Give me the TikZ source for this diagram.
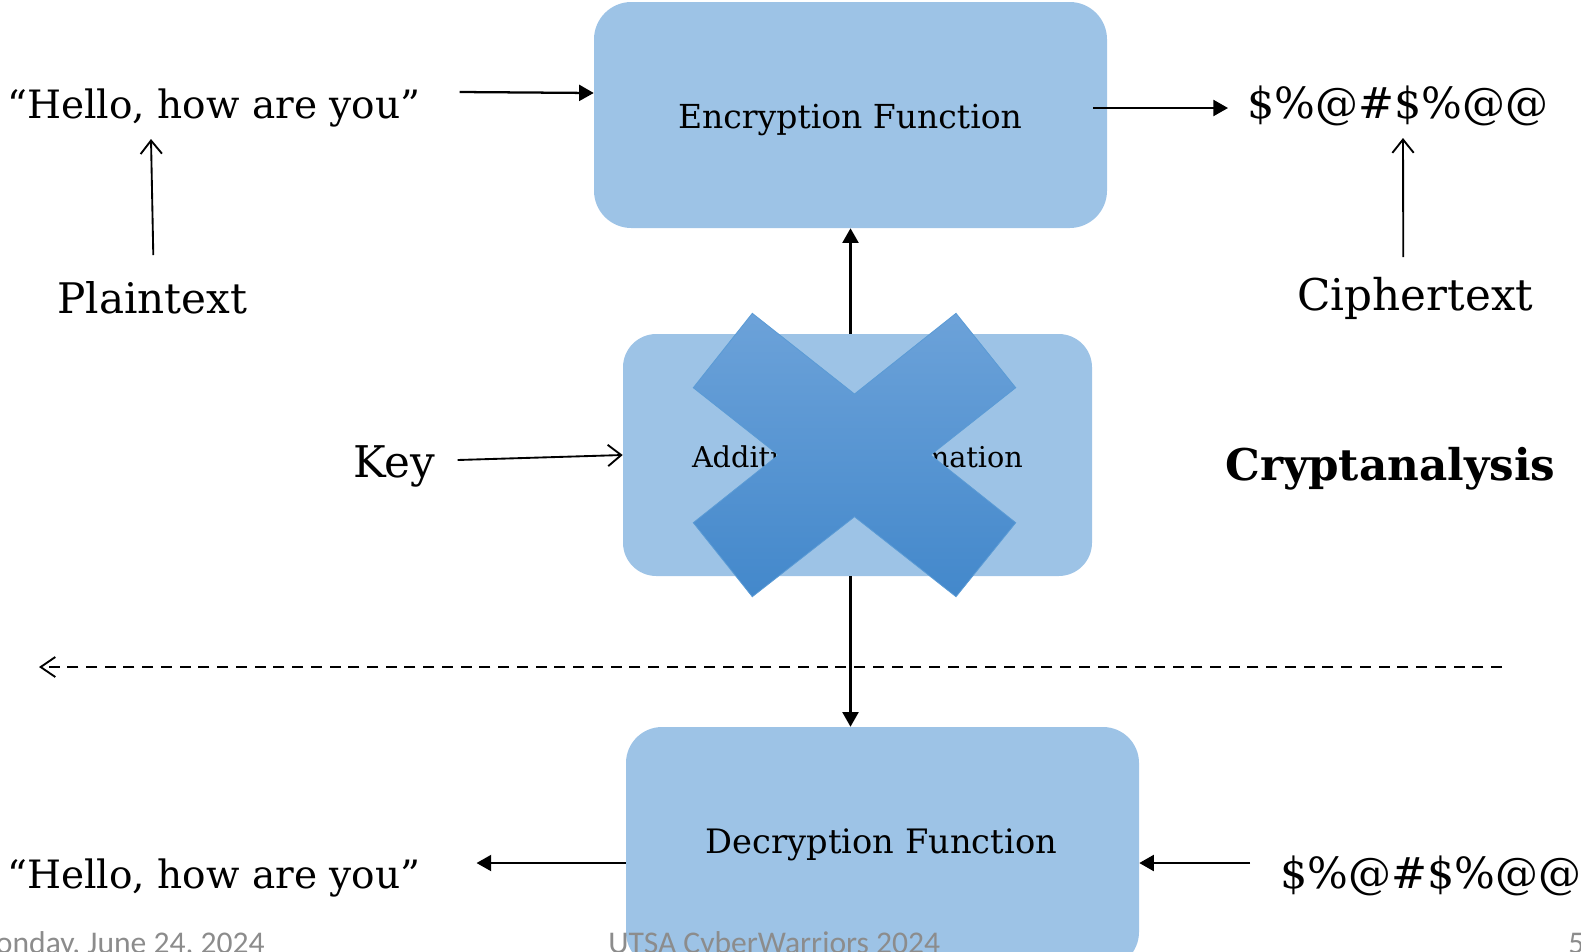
\documentclass[tikz,border=0pt]{standalone}
\usepackage{fontspec}
\setmainfont{DejaVu Serif}
\newfontfamily\footfont{Carlito}
\usetikzlibrary{arrows.meta,calc}
\newlength\pxu
\setlength\pxu{0.75pt}
% set a text so that it is exactly #1 units wide
\newcommand\fitw[2]{\resizebox{#1\pxu}{!}{#2}}
\definecolor{boxblue}{HTML}{9DC3E6}
\definecolor{xtop}{HTML}{6CA2D9}
\definecolor{xbot}{HTML}{4388CB}
\definecolor{xedge}{HTML}{5B9BD5}
\definecolor{footgray}{HTML}{8C8C8C}
\begin{document}
\begin{tikzpicture}[x=0.75pt,y=-0.75pt,
  fnbox/.style={rectangle, fill=boxblue, draw=none, inner sep=0},
  lbl/.style={inner sep=0, anchor=base west},
  ctr/.style={inner sep=0, anchor=base},
  foot/.style={inner sep=0, text=footgray, font=\fontsize{23.7pt}{28pt}\footfont},
  solidarrow/.style={line width=1.7pt, -{Triangle[length=11pt,width=12pt]}},
  openarrow/.style={line width=1.4pt, -{Straight Barb[length=10pt,width=16pt,line width=1.4pt]}},
  dashedarrow/.style={line width=1.6pt, dash pattern=on 8.25pt off 5.8pt,
    -{Straight Barb[length=11pt,width=15pt,line width=1.4pt]}}]
\useasboundingbox (0,0) rectangle (1581,951);
\clip (0,0) rectangle (1581,951);

% function boxes
\node[fnbox, rounded corners=28pt, minimum width=513\pxu, minimum height=226\pxu] (enc) at (850.5,115) {};
\node[fnbox, rounded corners=25pt, minimum width=469\pxu, minimum height=242\pxu] (add) at (857.5,455) {};
\node[fnbox, rounded corners=27pt, minimum width=513\pxu, minimum height=241\pxu] (dec) at (882.5,847.5) {};

% box titles
\node[ctr] (encT) at (850,128) {\fitw{344}{Encryption Function}};
\node[ctr] (addT) at (857.5,467) {\fitw{331}{Additional Information}};
\node[ctr] (decT) at (881.5,853) {\fitw{351}{Decryption Function}};

% labels
\node[lbl] (helloA) at (7,118) {\fitw{413}{``Hello, how are you''}};
\node[lbl] (plain) at (57,313) {\fitw{190}{Plaintext}};
\node[lbl] (cipherA) at (1247,118) {\fitw{301}{\$\%@\#\$\%@@}};
\node[lbl] (cipherLbl) at (1297,310) {\fitw{236}{Ciphertext}};
\node[lbl] (key) at (353,477) {\fitw{82}{Key}};
\node[lbl] (crypt) at (1225,480) {\fitw{330}{\bfseries Cryptanalysis}};
\node[lbl] (helloB) at (7,888) {\fitw{413}{``Hello, how are you''}};
\node[lbl] (cipherB) at (1280,888) {\fitw{301}{\$\%@\#\$\%@@}};

% connectors
\draw[solidarrow] ($(helloA.base east)+(39,-26)$) -- ($(enc.west)+(0,-22)$);
\draw[openarrow] ($(plain.base)+(1,-58)$) -- ($(helloA.base west)+(144,21)$);
\draw[solidarrow] ($(enc.east)+(-14,-7)$) -- ($(cipherA.base west)+(-19,-10)$);
\draw[openarrow] ($(cipherLbl.base)+(-12,-53)$) -- ($(cipherA.base west)+(156,20)$);
\draw[openarrow] ($(key.base east)+(22,-17)$) -- (add.west);
\draw[solidarrow] (add.north -| enc.south) -- (enc.south);
\draw[solidarrow] (add.south -| enc.south) -- (dec.north -| enc.south);
\draw[solidarrow] ($(dec.west)+(0,15.5)$) -- ($(helloB.base east)+(56,-25)$);
\draw[solidarrow] ($(cipherB.base west)+(-30,-25)$) -- ($(dec.east)+(0,15.5)$);

% attack line
\coordinate (dashR) at (1502,667);
\coordinate (dashL) at (39,667);
\draw[dashedarrow] (dashR) -- (dashL);

% cross over the key box
\path[top color=xtop, bottom color=xbot, draw=xedge, line width=0.6pt]
  (752.3,313.3) -- (854.5,394) -- (956,313.3) -- (1015.7,387.7) -- (930.6,455)
  -- (1015.7,522.7) -- (956,596.7) -- (854.5,516.7) -- (752.3,596.7)
  -- (693.3,522.7) -- (778.4,455) -- (693.3,387.7) -- cycle;

% footer
\node[foot, anchor=base east] (date) at (265,953) {Monday, June 24, 2024};
\node[foot, anchor=base west] (event) at (608,953) {UTSA CyberWarriors 2024};
\node[foot, anchor=base west] (slide) at (1568,953) {5};
\end{tikzpicture}
\end{document}
